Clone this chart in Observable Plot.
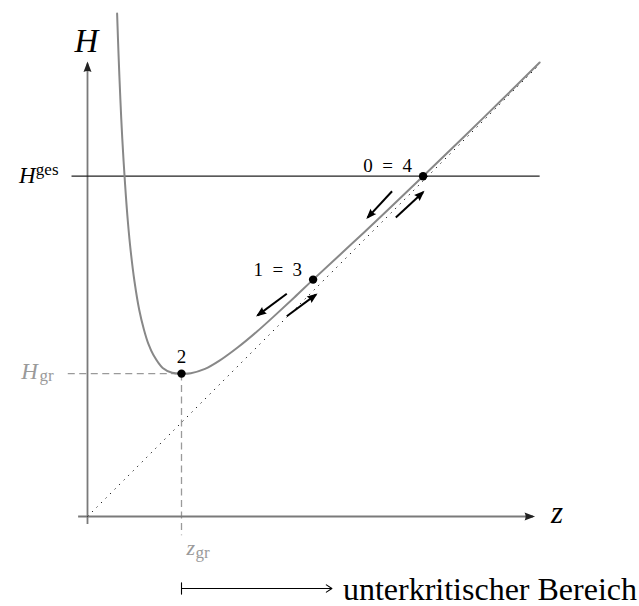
<!DOCTYPE html>
<html>
<head>
<meta charset="utf-8">
<script src="https://cdn.jsdelivr.net/npm/d3@7"></script>
<script src="https://cdn.jsdelivr.net/npm/@observablehq/plot@0.6"></script>
<style>
  html, body { margin: 0; padding: 0; background: #fff; }
  #chart svg { display: block; }
</style>
</head>
<body>
<div id="chart"></div>
<script>
// Specific energy H over flow depth z (sampled along the curve)
const curveZ = [0.315, 0.33, 0.35, 0.37, 0.40, 0.43, 0.46, 0.50, 0.55, 0.60, 0.65, 0.70, 0.80, 0.90, 1.00,
                1.10, 1.25, 1.40, 1.60, 1.80, 2.00, 2.20, 2.40, 2.80, 3.20, 3.57, 4.00, 4.40, 4.81];
const curveH = [5.35, 4.92, 4.43, 4.02, 3.53, 3.13, 2.82, 2.50, 2.20, 1.99, 1.83, 1.72, 1.58, 1.53, 1.52,
                1.525, 1.57, 1.655, 1.80, 1.965, 2.145, 2.33, 2.52, 2.89, 3.266, 3.62, 4.035, 4.425, 4.83];

// Critical state and total energy level
const zGr = 1.0;
const HGr = 1.52;
const HGes = 3.62;

// Labelled states on the curve
const stateLabels = ["2", "1\u2002=\u20023", "0\u2002=\u20024"];
const stateZ = [1.0, 2.40, 3.57];
const stateH = [1.52, 2.52, 3.62];

// Flow direction arrows beside the curve (start -> end)
const flowZ1 = [3.24, 3.28, 2.12, 2.12];
const flowH1 = [3.46, 3.18, 2.37, 2.13];
const flowZ2 = [2.98, 3.57, 1.81, 2.43];
const flowH2 = [3.18, 3.45, 2.14, 2.36];

// Axis extents
const zAxis = [-0.10, 4.74];
const hAxis = [-0.08, 4.82];
const zEnd = 4.81;

// Range marker below the axis
const rangeLabel = "unterkritischer Bereich";
const rangeZ = [zGr, 2.60];
const rangeH = -0.766;

const curve = curveZ.map((z, i) => ({z, H: curveH[i]}));
const states = stateLabels.map((label, i) => ({label, z: stateZ[i], H: stateH[i]}));
const flows = flowZ1.map((z1, i) => ({z1, H1: flowH1[i], z2: flowZ2[i], H2: flowH2[i]}));

const svgNS = "http://www.w3.org/2000/svg";
// Filled arrow head (LaTeX style) as a custom marker
function headMarker(fill) {
  return (color, context) => {
    const doc = (context && context.document) || document;
    const m = doc.createElementNS(svgNS, "marker");
    m.setAttribute("viewBox", "-10 -5 13 10");
    m.setAttribute("markerWidth", 13);
    m.setAttribute("markerHeight", 10);
    m.setAttribute("markerUnits", "userSpaceOnUse");
    m.setAttribute("orient", "auto");
    m.setAttribute("refX", 0);
    m.setAttribute("refY", 0);
    const p = doc.createElementNS(svgNS, "path");
    p.setAttribute("d", "M-8.5,-4 Q-6.5,0 -8.5,4 L2,0 Z");
    p.setAttribute("fill", fill || color);
    p.setAttribute("stroke", "none");
    m.appendChild(p);
    return m;
  };
}

const serif = "Liberation Serif, Times New Roman, serif";
const gray = "#9a9a9a";

const chart = Plot.plot({
  width: 639,
  height: 606,
  margin: 0,
  x: {domain: [0, 5], range: [87, 557], axis: null},
  y: {domain: [0, 5], range: [516, 46], axis: null},
  marks: [
    // dashed guides to the critical point
    Plot.link([{z1: -0.21, H1: HGr, z2: zGr, H2: HGr}, {z1: zGr, H1: HGr, z2: zGr, H2: -0.20}], {
      x1: "z1", y1: "H1", x2: "z2", y2: "H2",
      stroke: gray, strokeWidth: 1.3, strokeDasharray: "7,4.5"
    }),
    // axes
    Plot.link([{z1: zAxis[0], H1: 0, z2: zAxis[1], H2: 0}, {z1: 0, H1: hAxis[0], z2: 0, H2: hAxis[1]}], {
      x1: "z1", y1: "H1", x2: "z2", y2: "H2",
      stroke: "#7a7a7a", strokeWidth: 1.8, markerEnd: headMarker("#222")
    }),
    // total energy level
    Plot.link([{z1: -0.17, z2: zEnd}], {
      x1: "z1", x2: "z2", y1: () => HGes, y2: () => HGes,
      stroke: "#222", strokeWidth: 1.3
    }),
    // energy curve
    Plot.line(curve, {x: "z", y: "H", curve: "catmull-rom", stroke: "#888", strokeWidth: 2}),
    // asymptote H = z
    Plot.link([{z1: 0, z2: zEnd}], {
      x1: "z1", y1: "z1", x2: "z2", y2: "z2",
      stroke: "#000", strokeWidth: 1, strokeDasharray: "1.2,5.2"
    }),
    // flow direction arrows
    Plot.link(flows, {
      x1: "z1", y1: "H1", x2: "z2", y2: "H2",
      stroke: "#000", strokeWidth: 2, markerEnd: headMarker("#000")
    }),
    // states
    Plot.dot(states, {x: "z", y: "H", r: 4.2, fill: "#000"}),
    Plot.text(states.filter((d) => d.label === "2"), {
      x: "z", y: "H", text: "label", textAnchor: "middle", dy: -11,
      fontFamily: serif, fontSize: 19, lineAnchor: "bottom"
    }),
    Plot.text(states.filter((d) => d.label !== "2"), {
      x: "z", y: "H", text: "label", textAnchor: "end", dx: -11, dy: -4,
      fontFamily: serif, fontSize: 19, lineAnchor: "bottom"
    }),
    // axis titles
    Plot.text([{z: 0, H: hAxis[1]}], {
      x: "z", y: "H", text: () => "H", dx: -1, dy: -11,
      fontFamily: serif, fontStyle: "italic", fontSize: 33, lineAnchor: "bottom"
    }),
    Plot.text([{z: zAxis[1], H: 0}], {
      x: "z", y: "H", text: () => "z", dx: 18, dy: 6, textAnchor: "start",
      fontFamily: serif, fontStyle: "italic", fontSize: 31, lineAnchor: "bottom"
    }),
    // H^ges
    Plot.text([{z: -0.17, H: HGes}], {
      x: "z", y: "H", text: () => "H", dx: -36, dy: 7, textAnchor: "end",
      fontFamily: serif, fontStyle: "italic", fontSize: 23, lineAnchor: "bottom"
    }),
    Plot.text([{z: -0.17, H: HGes}], {
      x: "z", y: "H", text: () => "ges", dx: -13, dy: -1, textAnchor: "end",
      fontFamily: serif, fontSize: 17, lineAnchor: "bottom"
    }),
    // H_gr
    Plot.text([{z: -0.21, H: HGr}], {
      x: "z", y: "H", text: () => "H", dx: -30, dy: 5, textAnchor: "end", fill: gray,
      fontFamily: serif, fontStyle: "italic", fontSize: 23, lineAnchor: "bottom"
    }),
    Plot.text([{z: -0.21, H: HGr}], {
      x: "z", y: "H", text: () => "gr", dx: -14, dy: 7, textAnchor: "end", fill: gray,
      fontFamily: serif, fontSize: 17, lineAnchor: "bottom"
    }),
    // z_gr
    Plot.text([{z: zGr, H: -0.20}], {
      x: "z", y: "H", text: () => "z", dx: 5, dy: 20, textAnchor: "start", fill: gray,
      fontFamily: serif, fontStyle: "italic", fontSize: 22, lineAnchor: "bottom"
    }),
    Plot.text([{z: zGr, H: -0.20}], {
      x: "z", y: "H", text: () => "gr", dx: 14, dy: 23, textAnchor: "start", fill: gray,
      fontFamily: serif, fontSize: 17, lineAnchor: "bottom"
    }),
    // subcritical range
    Plot.link([{z1: rangeZ[0], z2: rangeZ[0]}], {
      x1: "z1", x2: "z2", y1: () => rangeH + 0.065, y2: () => rangeH - 0.065,
      stroke: "#000", strokeWidth: 1.1
    }),
    Plot.arrow([{z1: rangeZ[0], z2: rangeZ[1]}], {
      x1: "z1", x2: "z2", y1: () => rangeH, y2: () => rangeH,
      stroke: "#000", strokeWidth: 1.1, headLength: 9, headAngle: 66
    }),
    Plot.text([{z: rangeZ[1], H: rangeH}], {
      x: "z", y: "H", text: () => rangeLabel, dx: 11, dy: 11, textAnchor: "start",
      fontFamily: serif, fontSize: 32, lineAnchor: "bottom", fill: "#000"
    })
  ]
});

document.getElementById("chart").appendChild(chart);
</script>
</body>
</html>
